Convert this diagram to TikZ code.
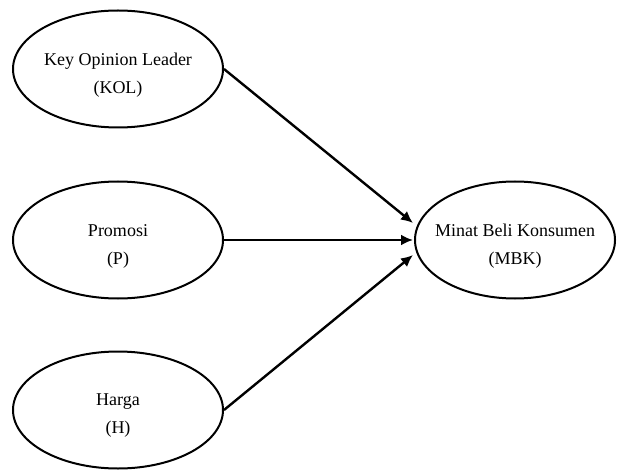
\documentclass[tikz,border=0pt]{standalone}
\usepackage{fontspec}
\setmainfont{Liberation Serif}
\usetikzlibrary{shapes.geometric,arrows.meta}
\begin{document}
\begin{tikzpicture}[x=1pt,y=1pt,
  construct/.style={ellipse,draw,line width=2pt,minimum width=210pt,minimum height=117pt,inner sep=0pt},
  txt/.style={align=center,font=\fontsize{18}{28}\selectfont,yshift=-6pt},
  link/.style={line width=2.4pt,-{Latex[length=12pt,width=11pt]}}]
\useasboundingbox (0,0) rectangle (617,469);
\node[construct,label={[txt]center:Key Opinion Leader\\(KOL)}] (kol) at (118,400) {};
\node[construct,label={[txt]center:Promosi\\(P)}] (p) at (118,229) {};
\node[construct,label={[txt]center:Harga\\(H)}] (h) at (118,59) {};
\node[construct,minimum width=200pt,label={[txt]center:Minat Beli Konsumen\\(MBK)}] (mbk) at (515,229) {};
\coordinate (e1) at ([xshift=-1pt,yshift=17pt]mbk.west);
\coordinate (e2) at ([xshift=-1pt]mbk.west);
\coordinate (e3) at ([xshift=-1pt,yshift=-15pt]mbk.west);
\draw[link] (kol.east) -- (e1);
\draw[link] (p.east) -- (e2);
\draw[link] (h.east) -- (e3);
\end{tikzpicture}
\end{document}
